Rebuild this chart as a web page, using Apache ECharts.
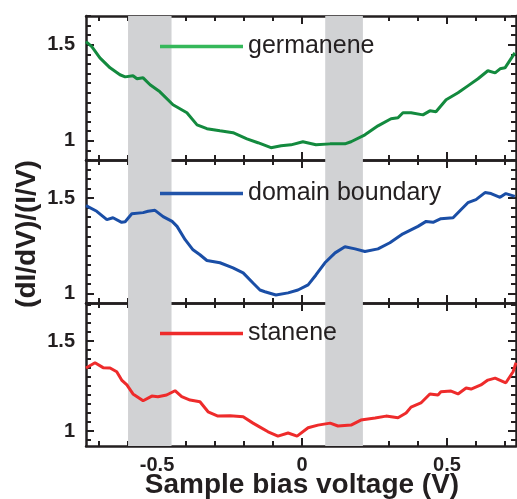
<!DOCTYPE html>
<html>
<head>
<meta charset="utf-8">
<script src="https://cdn.jsdelivr.net/npm/echarts@6/dist/echarts.min.js"></script>
<style>
html,body{margin:0;padding:0;background:#fff;}
#chart{width:517px;height:499px;}
</style>
</head>
<body>
<div id="chart"></div>
<script>
// ---- data ----
const seriesNames = ['germanene', 'domain boundary', 'stanene'];

const germV = [-0.745,-0.725,-0.697,-0.662,-0.628,-0.610,-0.583,-0.569,-0.548,-0.524,-0.490,-0.445,-0.397,-0.362,-0.328,-0.283,-0.238,-0.190,-0.152,-0.107,-0.072,-0.038,0.003,0.048,0.097,0.148,0.169,0.217,0.262,0.307,0.331,0.348,0.376,0.417,0.441,0.462,0.497,0.538,0.572,0.607,0.641,0.666,0.683,0.700,0.734];
const germY = [1.517,1.491,1.432,1.380,1.344,1.333,1.339,1.323,1.328,1.292,1.255,1.188,1.146,1.083,1.063,1.052,1.042,1.010,0.990,0.964,0.974,0.979,0.995,0.979,0.984,0.984,0.995,1.031,1.078,1.115,1.120,1.146,1.146,1.135,1.156,1.151,1.214,1.250,1.286,1.323,1.365,1.354,1.375,1.380,1.458];

const dbV = [-0.745,-0.708,-0.673,-0.652,-0.622,-0.610,-0.587,-0.548,-0.531,-0.507,-0.479,-0.448,-0.431,-0.403,-0.376,-0.352,-0.328,-0.283,-0.238,-0.203,-0.169,-0.145,-0.128,-0.090,-0.048,-0.014,0.021,0.048,0.079,0.114,0.148,0.183,0.217,0.262,0.303,0.348,0.400,0.428,0.452,0.479,0.521,0.548,0.572,0.600,0.631,0.652,0.683,0.703,0.734];
const dbY = [1.461,1.431,1.387,1.397,1.373,1.376,1.418,1.424,1.431,1.436,1.403,1.378,1.352,1.282,1.229,1.203,1.173,1.161,1.134,1.108,1.055,1.018,1.009,0.992,1.003,1.018,1.045,1.097,1.161,1.213,1.245,1.234,1.220,1.234,1.266,1.313,1.352,1.378,1.373,1.392,1.397,1.439,1.476,1.492,1.529,1.524,1.504,1.524,1.509];

const snV = [-0.745,-0.714,-0.686,-0.662,-0.639,-0.622,-0.604,-0.583,-0.548,-0.518,-0.497,-0.467,-0.438,-0.415,-0.386,-0.352,-0.324,-0.290,-0.248,-0.203,-0.169,-0.145,-0.117,-0.083,-0.048,-0.017,0.021,0.055,0.097,0.124,0.169,0.203,0.252,0.290,0.331,0.359,0.376,0.410,0.441,0.469,0.479,0.514,0.538,0.566,0.583,0.617,0.641,0.666,0.703,0.728,0.738];
const snY = [1.350,1.379,1.352,1.350,1.329,1.283,1.256,1.206,1.168,1.194,1.191,1.200,1.224,1.191,1.172,1.163,1.107,1.083,1.085,1.079,1.044,1.022,0.996,0.972,0.989,0.972,1.018,1.033,1.044,1.028,1.033,1.061,1.072,1.083,1.074,1.100,1.133,1.156,1.206,1.200,1.218,1.222,1.206,1.239,1.233,1.256,1.283,1.294,1.268,1.329,1.380];

const shadedBands = [[-0.6, -0.45], [0.08, 0.21]];

const xMinorTicks = [-0.7,-0.6,-0.5,-0.4,-0.3,-0.2,-0.1,0,0.1,0.2,0.3,0.4,0.5,0.6,0.7];
const xMajorTicks = [-0.5, 0, 0.5];
const xTickLabels = ['-0.5', '0', '0.5'];
const yMinorTicks = [0.9,0.95,1.0,1.05,1.1,1.15,1.2,1.25,1.3,1.35,1.4,1.45,1.5,1.55,1.6,1.65,1.7];
const yMajorTicks = [1, 1.5];
const yTickLabels = ['1', '1.5'];

// ---- layout / style ----
const X_MIN = -0.745, X_MAX = 0.738;
const yRanges = [[0.9, 1.65], [0.95, 1.7], [0.917, 1.711]];
const gridTops = [16, 160, 303];
const gridHeights = [144, 143, 143];
const lineColors = ['#138a3e', '#1a4ea6', '#ee2b2b'];
const legendColors = ['#35b85a', '#2255aa', '#ee2b2b'];
const legendY = [47, 194, 334];
const INK = '#231f20';
const FONT = 'Liberation Sans, Arial, sans-serif';

const xs = [germV, dbV, snV];
const ys = [germY, dbY, snY];

const grids = [], xAxes = [], yAxes = [], series = [], legends = [];

function within(arr, lo, hi) { return arr.filter(v => v >= lo - 1e-9 && v <= hi + 1e-9); }

for (let i = 0; i < 3; i++) {
  grids.push({ left: 86, right: 1, top: gridTops[i], height: gridHeights[i] });
  const [yLo, yHi] = yRanges[i];
  const axLine = { show: true, onZero: false, lineStyle: { color: INK, width: 2.5 } };
  const noLine = { show: false, onZero: false };
  const tickStyle = { color: INK, width: 2 };
  ['bottom', 'top'].forEach(pos => {
    xAxes.push({
      gridIndex: i, type: 'value', min: X_MIN, max: X_MAX, position: pos,
      axisLine: axLine,
      axisTick: { show: true, inside: true, length: 5, lineStyle: tickStyle, customValues: xMinorTicks },
      axisLabel: (pos === 'bottom' && i === 2) ? {
        show: true, customValues: xMajorTicks, margin: 9,
        formatter: v => xTickLabels[xMajorTicks.findIndex(t => Math.abs(t - v) < 1e-9)] || '',
        color: INK, fontSize: 20, fontWeight: 'bold', fontFamily: FONT
      } : { show: false },
      splitLine: { show: false }
    });
    xAxes.push({
      gridIndex: i, type: 'value', min: X_MIN, max: X_MAX, position: pos,
      axisLine: noLine,
      axisTick: { show: true, inside: true, length: 8, lineStyle: tickStyle, customValues: xMajorTicks },
      axisLabel: { show: false }, splitLine: { show: false }
    });
  });
  ['left', 'right'].forEach(pos => {
    yAxes.push({
      gridIndex: i, type: 'value', min: yLo, max: yHi, position: pos,
      axisLine: axLine,
      axisTick: { show: true, inside: true, length: 5, lineStyle: tickStyle, customValues: within(yMinorTicks, yLo, yHi) },
      axisLabel: pos === 'left' ? {
        show: true, customValues: yMajorTicks, margin: 11,
        formatter: v => yTickLabels[yMajorTicks.findIndex(t => Math.abs(t - v) < 1e-9)] || '',
        color: INK, fontSize: 20, fontWeight: 'bold', fontFamily: FONT
      } : { show: false },
      splitLine: { show: false }
    });
    yAxes.push({
      gridIndex: i, type: 'value', min: yLo, max: yHi, position: pos,
      axisLine: noLine,
      axisTick: { show: true, inside: true, length: 8, lineStyle: tickStyle, customValues: yMajorTicks },
      axisLabel: { show: false }, splitLine: { show: false }
    });
  });

  series.push({
    name: seriesNames[i], type: 'line', xAxisIndex: i * 4, yAxisIndex: i * 4,
    data: xs[i].map((v, k) => [v, ys[i][k]]),
    showSymbol: false, symbol: 'none', smooth: false, z: 5,
    lineStyle: { color: lineColors[i], width: 3 },
    itemStyle: { color: lineColors[i] },
    markArea: {
      silent: true,
      itemStyle: { color: '#d1d2d4' },
      data: shadedBands.map(b => [{ xAxis: b[0] }, { xAxis: b[1] }])
    }
  });

  legends.push({
    data: [{ name: seriesNames[i], itemStyle: { color: legendColors[i] } }],
    left: 160, top: legendY[i] - 13, padding: 0,
    icon: 'rect', itemWidth: 83, itemHeight: 3.5, itemGap: 0,
    selectedMode: false,
    textStyle: { color: INK, fontSize: 25, fontFamily: FONT, padding: [0, 0, 0, 0] }
  });
}

const chart = echarts.init(document.getElementById('chart'), null, { renderer: 'canvas' });
chart.setOption({
  animation: false,
  backgroundColor: '#fff',
  grid: grids, xAxis: xAxes, yAxis: yAxes, series: series, legend: legends,
  graphic: [
    { type: 'text', x: 27, y: 234, rotation: Math.PI / 2,
      style: { text: '(dI/dV)/(I/V)', fill: INK, font: 'bold 28px ' + FONT, textAlign: 'center', textVerticalAlign: 'middle' } },
    { type: 'text', x: 302, y: 485,
      style: { text: 'Sample bias voltage (V)', fill: INK, font: 'bold 28px ' + FONT, textAlign: 'center', textVerticalAlign: 'middle' } }
  ]
});
</script>
</body>
</html>
